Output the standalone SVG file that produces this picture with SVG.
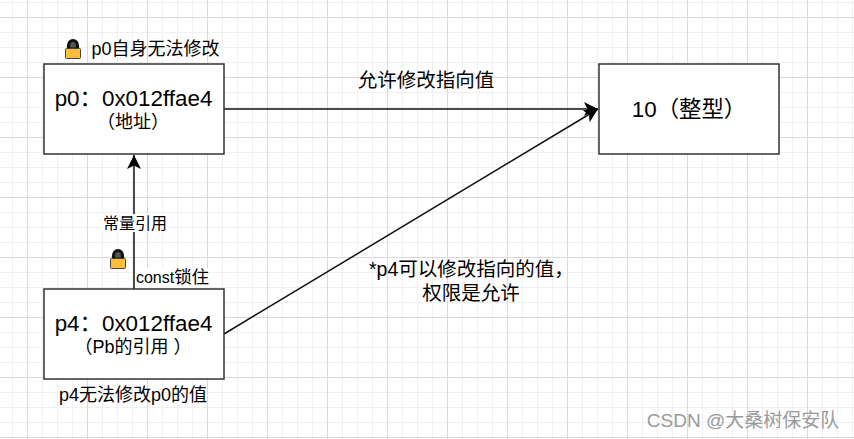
<svg xmlns="http://www.w3.org/2000/svg" width="854" height="439" viewBox="0 0 854 439">
<style>
text{font-family:"Liberation Sans","Noto Sans CJK SC",sans-serif;fill:#000;text-anchor:middle}
.box{fill:#fff;stroke:#333;stroke-width:1.5}
.t16{font-size:16px}
.t18{font-size:18px}
.t195{font-size:19.500px}
.t22{font-size:22.400px}
.conn{fill:none;stroke:#111;stroke-width:1.5}
.bg{fill:#fff}
</style>
<defs>
<pattern id="minor" width="15" height="15" patternUnits="userSpaceOnUse" x="12" y="2">
<path d="M0.500 0V15M0 0.500H15" fill="none" stroke="#f0f0f0" stroke-width="1"/>
</pattern>
<pattern id="major" width="60" height="60" patternUnits="userSpaceOnUse" x="27" y="17">
<path d="M0.500 0V60M0 0.500H60" fill="none" stroke="#d9d9d9" stroke-width="1"/>
</pattern>
<marker id="arrow" markerUnits="userSpaceOnUse" markerWidth="16" markerHeight="16" refX="14" refY="7" orient="auto">
<path d="M0 0L14 7L0 14L3.500 7Z" fill="#000"/>
</marker>
<g id="lock">
<path d="M3.500 10V7a4.500 5.500 0 0 1 9 0V10Z" fill="#555" stroke="#111" stroke-width="3.200"/>
<rect x="0.500" y="9.500" width="15" height="10" rx="1" fill="#fdbd3c" stroke="#444"/>
</g>
</defs>
<rect width="854" height="439" fill="#fff"/>
<rect width="854" height="439" fill="url(#minor)"/>
<rect width="854" height="439" fill="url(#major)"/>
<g id="connectors">
<path class="conn" d="M224 109H598" marker-end="url(#arrow)"/>
<path class="conn" d="M224 334L598 109" marker-end="url(#arrow)"/>
<path class="conn" d="M134 289V155" marker-end="url(#arrow)"/>
</g>
<g id="node-p0">
<rect class="box" x="44" y="64" width="180" height="90"/>
<text class="t22" x="133.500" y="106">p0：0x012ffae4</text>
<text class="t18" x="133" y="128">（地址）</text>
</g>
<g id="node-p4">
<rect class="box" x="44" y="289" width="180" height="90"/>
<text class="t22" x="133.500" y="331">p4：0x012ffae4</text>
<text class="t18" x="133" y="353">（Pb的引用 ）</text>
</g>
<g id="node-value">
<rect class="box" x="599" y="64" width="180" height="90"/>
<text class="t22" x="689" y="117">10（整型）</text>
</g>
<g id="lock-p0"><use href="#lock" x="65" y="39"/></g>
<g id="lock-p4"><use href="#lock" x="110" y="249"/></g>
<g id="label-p0-fixed"><text class="t18" x="155.500" y="55">p0自身无法修改</text></g>
<g id="label-allow"><text class="t195" x="426" y="87">允许修改指向值</text></g>
<g id="label-ref">
<rect class="bg" x="102" y="214" width="66" height="18"/>
<text class="t16" x="135" y="229">常量引用</text>
</g>
<g id="label-const">
<rect class="bg" x="135" y="268" width="75" height="20"/>
<text class="t16" x="172.500" y="283">const<tspan font-size="17.500">锁住</tspan></text>
</g>
<g id="label-p4-fixed"><text class="t18" x="133" y="401">p4无法修改p0的值</text></g>
<g id="label-p4-can">
<text class="t195" x="369" y="276" style="text-anchor:start">*p4可以修改指向的值，</text>
<text class="t195" x="471" y="300">权限是允许</text>
</g>
<text x="743" y="427" style="font-size:19px;fill:#9a9a9a">CSDN @大桑树保安队</text>
</svg>
